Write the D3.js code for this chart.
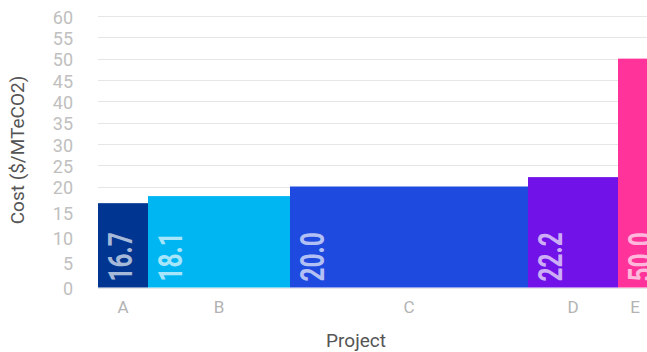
<!DOCTYPE html>
<html>
<head>
<meta charset="utf-8">
<script src="https://cdn.jsdelivr.net/npm/d3@7"></script>
<style>
  html, body { margin: 0; padding: 0; background: #fff; }
  svg { display: block; }
</style>
</head>
<body>
<svg id="chart" width="647" height="352"></svg>
<script>
// Marginal cost by project: bar width = project size, bar height = cost
const projects = ["A", "B", "C", "D", "E"];
const costs = [16.7, 18.1, 20.0, 22.2, 50.0];
const widths = [5.0, 14.2, 23.8, 9.0, 3.4];
const colors = ["#003591", "#00b6f2", "#1f4ae0", "#7112e8", "#ff3399"];
const yTicks = [0, 5, 10, 15, 20, 25, 30, 35, 40, 45, 50, 55, 60];

const svg = d3.select("#chart");
const W = 647, H = 352;
const left = 98, bottom = 287.5;

// cumulative start of each bar
const starts = [];
widths.reduce((acc, w, i) => { starts[i] = acc; return acc + w; }, 0);
const total = d3.sum(widths);

const x = d3.scaleLinear().domain([0, total]).range([left, 652]);
// value axis is stretched below 20
const y = d3.scaleLinear().domain([0, 20, 60]).range([bottom, 186.5, 16]);

// gridlines
svg.append("g")
  .selectAll("line")
  .data(yTicks)
  .join("line")
  .attr("x1", left).attr("x2", W)
  .attr("y1", d => Math.round(y(d)) + 0.5)
  .attr("y2", d => Math.round(y(d)) + 0.5)
  .attr("stroke", "#e6e6e6")
  .attr("stroke-width", 1);

// y axis labels
const yAxis = d3.axisLeft(y).tickValues(yTicks).tickSize(0).tickPadding(0);
const gy = svg.append("g").attr("transform", "translate(73,1.5)").call(yAxis);
gy.select(".domain").remove();
gy.selectAll("text")
  .attr("fill", "#c0c0c0")
  .style("font-family", "Roboto, 'Liberation Sans', sans-serif")
  .style("font-size", "18px");

// bars
const data = projects.map((p, i) => ({ p, cost: costs[i], x0: starts[i], w: widths[i], color: colors[i] }));

svg.append("g")
  .selectAll("rect")
  .data(data)
  .join("rect")
  .attr("x", d => x(d.x0))
  .attr("width", d => x(d.x0 + d.w) - x(d.x0))
  .attr("y", d => y(d.cost))
  .attr("height", d => bottom - y(d.cost))
  .attr("fill", d => d.color);

// value labels, rotated, inside each bar
svg.append("g")
  .selectAll("text")
  .data(data)
  .join("text")
  .attr("transform", d => `translate(${x(d.x0) + 34},${bottom - 6}) rotate(-90) scale(0.72,1)`)
  .attr("fill", "#fff")
  .attr("fill-opacity", 0.66)
  .style("font-family", "Roboto, 'DejaVu Sans', sans-serif")
  .style("font-weight", "700")
  .style("font-size", "34px")
  .text(d => d.cost.toFixed(1));

// category labels
svg.append("g")
  .selectAll("text")
  .data(data)
  .join("text")
  .attr("x", d => x(d.x0 + d.w / 2))
  .attr("y", 313)
  .attr("text-anchor", "middle")
  .attr("fill", "#b3b3b3")
  .style("font-family", "Roboto, 'Liberation Sans', sans-serif")
  .style("font-size", "17px")
  .text(d => d.p);

// axis titles
svg.append("text")
  .attr("x", 356)
  .attr("y", 347)
  .attr("text-anchor", "middle")
  .attr("fill", "#555")
  .style("font-family", "Roboto, 'Liberation Sans', sans-serif")
  .style("font-size", "19px")
  .text("Project");

svg.append("text")
  .attr("transform", "translate(24,150) rotate(-90)")
  .attr("text-anchor", "middle")
  .attr("fill", "#555")
  .style("font-family", "Roboto, 'Liberation Sans', sans-serif")
  .style("font-size", "19px")
  .text("Cost ($/MTeCO2)");
</script>
</body>
</html>
